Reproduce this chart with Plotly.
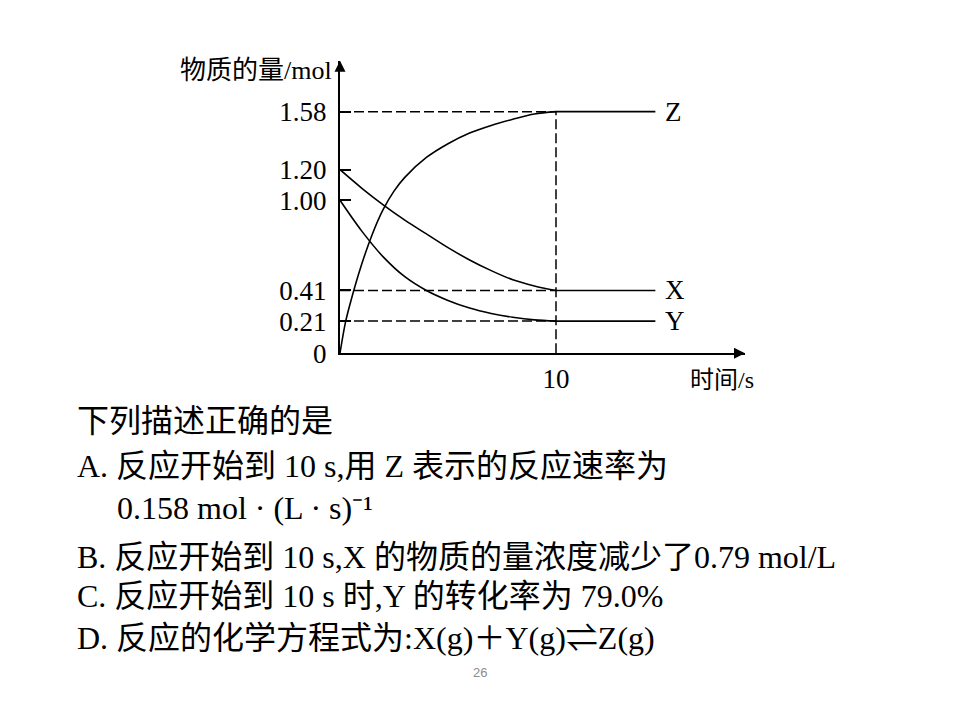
import plotly.graph_objects as go

# ---- data ----
t_xy = [0, 1, 2, 3, 4, 5, 6, 7, 8, 9, 10]
x_amount = [1.20, 1.08, 0.97, 0.87, 0.78, 0.69, 0.61, 0.54, 0.48, 0.44, 0.41]
y_amount = [1.00, 0.80, 0.63, 0.50, 0.41, 0.345, 0.295, 0.26, 0.235, 0.218, 0.21]
t_z = [0, 0.25, 0.5, 1, 1.5, 2, 2.5, 3, 4, 5, 6, 7, 8, 9, 10]
z_amount = [0, 0.20, 0.34, 0.58, 0.78, 0.94, 1.06, 1.15, 1.28, 1.37, 1.44, 1.49, 1.53, 1.565, 1.58]
t_eq = 10
t_end = 14.6
final_levels = {"Z": 1.58, "X": 0.41, "Y": 0.21}
y_ticks = [0, 0.21, 0.41, 1.00, 1.20, 1.58]
y_ticktext = ["0", "0.21", "0.41", "1.00", "1.20", "1.58"]
x_ticks = [10]
x_ticktext = ["10"]

question_lines = [
    "下列描述正确的是",
    "A. 反应开始到 10 s,用 Z 表示的反应速率为",
    "0.158 mol · (L · s)⁻¹",
    "B. 反应开始到 10 s,X 的物质的量浓度减少了0.79 mol/L",
    "C. 反应开始到 10 s 时,Y 的转化率为 79.0%",
    "D. 反应的化学方程式为:X(g)＋Y(g)⇌Z(g)",
]

# ---- layout geometry ----
W, H = 960, 720
ppx = 21.6            # px per second
ppy = 156.14          # px per mol
x0_px, y0_px = 340, 360.7
xr_px, yt_px = 745, 62
x_max = (xr_px - x0_px) / ppx
y_max = (y0_px - yt_px) / ppy

FONT = "Liberation Serif, Noto Sans CJK SC"
BLACK = "#000000"

fig = go.Figure()

# dashed guides
for lvl in final_levels.values():
    fig.add_trace(go.Scatter(x=[0, t_eq], y=[lvl, lvl], mode="lines",
                             line=dict(color=BLACK, width=1.5, dash="10px,4px"),
                             hoverinfo="skip", showlegend=False))
fig.add_trace(go.Scatter(x=[t_eq, t_eq], y=[0, final_levels["Z"]], mode="lines",
                         line=dict(color=BLACK, width=1.5, dash="10px,4px"),
                         hoverinfo="skip", showlegend=False))

# curves
for tt, vv in [(t_xy, x_amount), (t_xy, y_amount), (t_z, z_amount)]:
    fig.add_trace(go.Scatter(x=tt, y=vv, mode="lines",
                             line=dict(color=BLACK, width=1.6, shape="spline", smoothing=0.9),
                             hoverinfo="skip", showlegend=False))

# plateaus
for name, lvl in final_levels.items():
    fig.add_trace(go.Scatter(x=[t_eq, t_end], y=[lvl, lvl], mode="lines",
                             line=dict(color=BLACK, width=1.6),
                             hoverinfo="skip", showlegend=False))
    fig.add_annotation(x=t_end + 0.35, y=lvl, text=name, showarrow=False,
                       xanchor="left", yanchor="middle",
                       font=dict(family=FONT, size=27, color=BLACK))

# axis arrow heads
fig.add_trace(go.Scatter(x=[0], y=[y_max], mode="markers", cliponaxis=False,
                         marker=dict(symbol="arrow-up", size=11, color=BLACK),
                         hoverinfo="skip", showlegend=False))
fig.add_trace(go.Scatter(x=[x_max], y=[0], mode="markers", cliponaxis=False,
                         marker=dict(symbol="arrow-right", size=11, color=BLACK),
                         hoverinfo="skip", showlegend=False))

# axis titles
fig.add_annotation(xref="paper", yref="paper", x=334 / W, y=1 - 72 / H,
                   text="物质的量/mol", showarrow=False, xanchor="right", yanchor="middle",
                   font=dict(family=FONT, size=26, color=BLACK))
fig.add_annotation(xref="paper", yref="paper", x=688 / W, y=1 - 388 / H,
                   text="时间/s", showarrow=False, xanchor="left", yanchor="middle",
                   font=dict(family=FONT, size=24, color=BLACK))

# question text
line_pos = [(75, 430), (75, 476), (115, 519), (75, 569), (75, 609), (75, 652)]
for txt, (lx, ly) in zip(question_lines, line_pos):
    fig.add_annotation(xref="paper", yref="paper", x=lx / W, y=1 - ly / H,
                       text=txt, showarrow=False, xanchor="left", yanchor="middle",
                       font=dict(family=FONT, size=32, color=BLACK))

fig.add_annotation(xref="paper", yref="paper", x=480 / W, y=1 - 687 / H,
                   text="26", showarrow=False, xanchor="center", yanchor="middle",
                   font=dict(family="Liberation Sans, Arial", size=13, color="#8c8c8c"))

fig.update_layout(
    width=W, height=H,
    margin=dict(l=0, r=0, t=0, b=0),
    paper_bgcolor="white", plot_bgcolor="white",
    hovermode=False,
    xaxis=dict(domain=[x0_px / W, xr_px / W], range=[0, x_max],
               showgrid=False, zeroline=False, showline=True, linecolor=BLACK, linewidth=2,
               tickvals=x_ticks, ticktext=x_ticktext, ticks="",
               tickfont=dict(family=FONT, size=27, color=BLACK), ticklabelstandoff=0),
    yaxis=dict(domain=[1 - y0_px / H, 1 - yt_px / H], range=[0, y_max],
               showgrid=False, zeroline=False, showline=True, linecolor=BLACK, linewidth=2,
               tickvals=y_ticks, ticktext=y_ticktext, ticks="inside", ticklen=11,
               tickwidth=1.6, tickcolor=BLACK,
               tickfont=dict(family=FONT, size=27, color=BLACK), ticklabelstandoff=6),
)

fig.write_html("out.html", config={"displayModeBar": False})
